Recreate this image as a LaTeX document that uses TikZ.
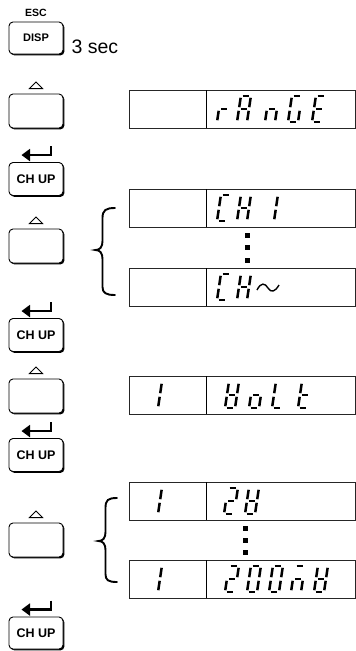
\documentclass[tikz,border=0pt]{standalone}
\usepackage{fontspec}
\setmainfont{Liberation Sans}
\usetikzlibrary{shadows,arrows.meta,calc}
\tikzset{
  btn/.style={draw=black, line width=0.9pt, rounded corners=4pt, fill=white,
    minimum width=54pt, minimum height=#1, inner sep=0pt,
    drop shadow={shadow xshift=1.4pt, shadow yshift=-1.4pt, fill=black, opacity=1}},
  btntxt/.style={font=\fontsize{12.5}{13}\selectfont\bfseries},
  disp/.style={draw=black!85, line width=0.8pt, minimum width=226pt, minimum height=38pt, inner sep=0pt},
  divl/.style={draw=black, line width=1pt},
  seg/.style={line width=2.5pt, black},
  sqdot/.style={fill=black, minimum size=5pt, inner sep=0pt},
  tri/.style={draw=black, line width=0.9pt, line join=miter},
  ret/.style={line width=2.6pt, -{Triangle[length=8.5pt,width=12pt]}},
  brace/.style={line width=1.9pt, line cap=round},
}
% seven-segment pieces (cell width 10, height 26, origin bottom-left)
\newcommand\sgA{\draw[seg] (1.8,-26)--(8.2,-26);}
\newcommand\sgB{\draw[seg] (10,-24.2)--(10,-14.8);}
\newcommand\sgC{\draw[seg] (10,-11.2)--(10,-1.8);}
\newcommand\sgD{\draw[seg] (1.8,0)--(8.2,0);}
\newcommand\sgE{\draw[seg] (0,-1.8)--(0,-11.2);}
\newcommand\sgF{\draw[seg] (0,-14.8)--(0,-24.2);}
\newcommand\sgG{\draw[seg] (1.8,-13)--(8.2,-13);}
\newcommand\ssd[3]{\begin{scope}[shift={(#1,#2)},xslant=0.15]#3\end{scope}}
\newcommand\svr{\sgE\sgG}
\newcommand\svA{\sgA\sgB\sgC\sgE\sgF\sgG}
\newcommand\svn{\sgC\sgE\sgG}
\newcommand\svG{\sgA\sgC\sgD\sgE\sgF}
\newcommand\svE{\sgA\sgD\sgE\sgF\sgG}
\newcommand\svC{\sgA\sgD\sgE\sgF}
\newcommand\svH{\sgB\sgC\sgE\sgF\sgG}
\newcommand\svone{\sgB\sgC}
\newcommand\svV{\sgB\sgC\sgD\sgE\sgF\sgG}
\newcommand\svo{\sgC\sgD\sgE\sgG}
\newcommand\svL{\sgD\sgE\sgF}
\newcommand\svt{\sgD\sgE\sgF\sgG}
\newcommand\svtwo{\sgA\sgB\sgD\sgE\sgG}
\newcommand\svzero{\sgA\sgB\sgC\sgD\sgE\sgF}
\newcommand\svm{\sgA\sgC\sgE\sgG}
\begin{document}
\begin{tikzpicture}[x=1pt,y=-1pt]
\useasboundingbox (0,0) rectangle (356,651);
% ---------- left column: keys ----------
\node[font=\fontsize{10.5}{11}\selectfont\bfseries] (esc) at (36,12.5) {ESC};
\node[btn=32pt, font=\fontsize{11}{12}\selectfont\bfseries] (bdisp) at (36,38) {DISP};
\node[anchor=west, font=\fontsize{19.5}{20}\selectfont] (sec) at (68,47) {3 sec};

\node[btn=34pt] (bup1) at (36,111) {};
\node[btn=33pt, btntxt] (bch1) at (36,179) {CH UP};
\node[btn=34pt] (bup2) at (36,246) {};
\node[btn=33pt, btntxt] (bch2) at (36,335) {CH UP};
\node[btn=34pt] (bup3) at (36,396) {};
\node[btn=33pt, btntxt] (bch3) at (36,455) {CH UP};
\node[btn=34pt] (bup4) at (36,540) {};
\node[btn=32pt, btntxt] (bch4) at (36,633) {CH UP};

% up triangles
\foreach \b in {bup1,bup2,bup3,bup4}{
  \draw[tri] ($(\b.north)+(-6.5,-5)$) -- ($(\b.north)+(0,-11.5)$) -- ($(\b.north)+(6.5,-5)$) -- cycle;
}
% return arrows
\foreach \b in {bch1,bch2,bch3,bch4}{
  \coordinate (\b-r1) at ($(\b.north)+(15,-16)$);
  \coordinate (\b-r2) at ($(\b.north)+(15,-7)$);
  \coordinate (\b-r3) at ($(\b.north)+(-14.5,-7)$);
  \draw[ret] (\b-r1) -- (\b-r2) -- (\b-r3);
}

% ---------- displays ----------
\foreach \n/\t in {d1/90,d2/189,d3/268,d4/376,d5/482,d6/560}{
  \node[disp, anchor=north west] (\n) at (129,\t) {};
  \draw[divl] (206,\t) -- (206,\t+38);
}

% rANGE
\ssd{217}{122}{\svr}
\ssd{237}{122}{\svA}
\ssd{265}{122}{\svn}
\ssd{288}{122}{\svG}
\ssd{312}{122}{\svE}
% CH1
\ssd{217}{221}{\svC}
\ssd{237}{221}{\svH}
\ssd{264}{221}{\svone}
% CH~
\ssd{217}{300}{\svC}
\ssd{237}{300}{\svH}
\draw[line width=1.4pt] (257,290) .. controls (261,282) and (265,283) .. (268,288)
   .. controls (271,293) and (275,292) .. (279,285);
% 1 Volt
\ssd{148}{408}{\svone}
\ssd{225}{408}{\svV}
\ssd{249}{408}{\svo}
\ssd{272}{408}{\svL}
\ssd{298}{408}{\svt}
% 1 2V
\ssd{148}{514}{\svone}
\ssd{224}{514}{\svtwo}
\ssd{245}{514}{\svV}
% 1 200mV
\ssd{148}{592}{\svone}
\ssd{225}{592}{\svtwo}
\ssd{247}{592}{\svzero}
\ssd{269}{592}{\svzero}
\ssd{291}{592}{\svm}
\ssd{314}{592}{\svV}

% vertical ellipsis dots
\node[sqdot] (e1) at (247,235) {};
\node[sqdot] (e2) at (247,247.5) {};
\node[sqdot] (e3) at (247,260) {};
\node[sqdot] (f1) at (245,528) {};
\node[sqdot] (f2) at (245,540) {};
\node[sqdot] (f3) at (245,552) {};

% braces
\draw[brace] (115,208) .. controls (106,208) and (102.5,210) .. (102.5,218) -- (102.5,241)
  .. controls (102.5,247) and (100,250) .. (95.5,250)
  .. controls (100,250) and (102.5,253) .. (102.5,259) -- (102.5,287)
  .. controls (102.5,293) and (106,295) .. (115,295);
\draw[brace] (117,498) .. controls (108,498) and (105.5,500) .. (105.5,508) -- (105.5,532)
  .. controls (105.5,538) and (103,541) .. (98.5,541)
  .. controls (103,541) and (105.5,544) .. (105.5,550) -- (105.5,574)
  .. controls (105.5,580) and (108,582) .. (117,582);
\end{tikzpicture}
\end{document}
